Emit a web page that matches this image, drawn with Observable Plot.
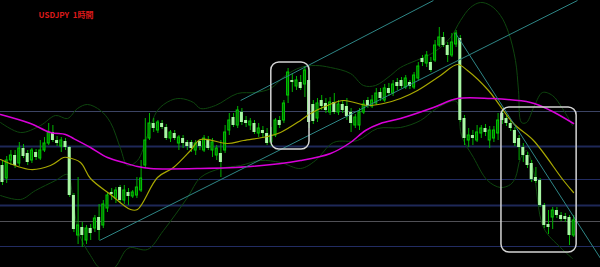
<!DOCTYPE html>
<html><head><meta charset="utf-8">
<script src="https://cdn.jsdelivr.net/npm/d3@7"></script>
<script src="https://cdn.jsdelivr.net/npm/@observablehq/plot@0.6"></script>
<style>html,body{margin:0;padding:0;background:#000;overflow:hidden}</style>
</head><body><div id="chart"></div>
<script>
const title = "USDJPY  1時間";

// Hourly candles (bar index 0..136), prices in yen
const open = [149.35,149.22,149.40,149.45,149.37,149.52,149.47,149.40,149.48,149.42,
149.50,149.57,149.68,149.60,149.54,149.59,149.53,149.05,148.65,148.73,
148.60,148.72,148.72,148.83,148.75,148.92,149.08,149.02,149.13,149.00,
149.08,149.04,149.05,149.10,149.35,149.62,149.77,149.70,149.77,149.73,
149.62,149.67,149.57,149.62,149.58,149.58,149.50,149.59,149.50,149.60,
149.50,149.45,149.47,149.50,149.70,149.83,149.75,149.88,149.80,149.75,
149.77,149.67,149.70,149.67,149.58,149.65,149.80,149.80,150.05,150.20,
150.14,150.18,150.16,150.20,149.96,149.82,150.00,149.97,149.88,149.98,
149.88,149.96,149.94,149.88,149.75,149.75,149.88,150.00,149.94,149.97,
150.08,150.00,150.12,150.07,150.18,150.20,150.13,150.18,150.13,150.22,
150.42,150.37,150.38,150.40,150.55,150.63,150.55,150.45,150.56,150.62,
149.82,149.60,149.65,149.60,149.67,149.72,149.60,149.62,149.67,149.87,
149.82,149.77,149.70,149.62,149.53,149.45,149.37,149.23,149.20,148.95,
148.76,148.83,148.90,148.85,148.84,148.83,148.65];
const high = [149.40,149.44,149.50,149.50,149.58,149.56,149.50,149.52,149.51,149.60,
149.63,149.77,149.75,149.64,149.63,149.62,149.54,149.07,149.23,148.78,
148.75,148.76,148.85,148.96,149.00,149.08,149.12,149.13,149.15,149.15,
149.12,149.10,149.23,149.40,149.82,149.87,149.82,149.80,149.80,149.76,
149.70,149.70,149.65,149.65,149.60,149.60,149.60,149.61,149.65,149.64,
149.62,149.55,149.60,149.75,149.87,149.87,149.94,149.92,149.84,149.82,
149.80,149.77,149.74,149.72,149.73,149.82,149.84,150.00,150.32,150.27,
150.24,150.25,150.34,150.32,150.00,150.02,150.05,150.02,150.03,150.07,
150.00,150.00,150.02,149.92,149.86,149.92,150.00,150.03,150.05,150.12,
150.12,150.16,150.17,150.20,150.22,150.23,150.25,150.20,150.28,150.38,
150.45,150.49,150.43,150.60,150.73,150.68,150.58,150.67,150.70,150.65,
149.85,149.72,149.70,149.75,149.75,149.76,149.74,149.74,149.87,149.90,
149.85,149.80,149.73,149.65,149.57,149.48,149.40,149.33,149.22,148.97,
148.90,148.93,148.93,148.88,148.87,148.85,148.85];
const low = [149.15,149.17,149.35,149.32,149.34,149.42,149.35,149.37,149.40,149.40,
149.48,149.55,149.58,149.54,149.48,149.50,149.03,148.68,148.56,148.53,
148.56,148.60,148.68,148.60,148.72,148.88,149.00,148.97,148.97,148.96,
148.95,149.02,149.02,149.08,149.32,149.60,149.68,149.67,149.71,149.60,
149.58,149.60,149.50,149.52,149.50,149.48,149.45,149.50,149.48,149.50,
149.43,149.40,149.23,149.47,149.65,149.73,149.72,149.75,149.73,149.70,
149.66,149.63,149.63,149.55,149.54,149.63,149.72,149.77,149.97,150.08,
150.10,150.10,150.03,149.72,149.76,149.78,149.90,149.87,149.85,149.86,
149.85,149.87,149.80,149.68,149.72,149.70,149.86,149.92,149.92,149.95,
149.99,149.98,150.04,150.04,150.10,150.12,150.11,150.11,150.11,150.20,
150.34,150.33,150.28,150.38,150.53,150.53,150.38,150.43,150.53,149.78,
149.55,149.53,149.55,149.58,149.62,149.64,149.52,149.58,149.60,149.76,
149.74,149.69,149.54,149.40,149.38,149.32,149.18,149.17,148.93,148.72,
148.66,148.71,148.82,148.79,148.78,148.55,148.63];
const close = [149.18,149.40,149.45,149.35,149.52,149.44,149.38,149.50,149.43,149.50,
149.57,149.68,149.60,149.57,149.60,149.53,149.05,148.71,148.75,148.65,
148.72,148.67,148.82,148.70,148.96,149.05,149.06,149.10,149.00,149.10,
149.04,149.08,149.13,149.22,149.60,149.77,149.72,149.78,149.73,149.62,
149.68,149.62,149.63,149.57,149.54,149.52,149.57,149.54,149.62,149.52,
149.58,149.52,149.38,149.68,149.80,149.75,149.90,149.78,149.77,149.79,
149.68,149.72,149.67,149.57,149.65,149.80,149.75,149.97,150.28,150.18,
150.20,150.12,150.30,149.78,149.79,149.97,149.94,149.90,149.98,149.88,
149.96,149.90,149.84,149.77,149.83,149.88,149.96,149.94,150.00,150.07,
150.02,150.12,150.07,150.16,150.14,150.14,150.22,150.14,150.25,150.34,
150.38,150.45,150.30,150.55,150.63,150.55,150.45,150.58,150.67,149.80,
149.62,149.65,149.62,149.68,149.72,149.68,149.70,149.70,149.80,149.80,
149.77,149.72,149.57,149.53,149.45,149.35,149.21,149.19,148.95,148.75,
148.73,148.90,148.85,148.81,148.81,148.65,148.80];

// Short moving average (yellow) – knots
const maShortBar = [-0.48,6.67,11.43,14.52,15.48,18.57,20.95,25.71,30.48,32.14,36.90,40.71,44.76,47.14,53.57,57.38,63.10,66.19,70.95,73.33,77.38,81.19,86.90,90.71,94.76,98.81,104.29,108.33,110.71,115.71,121.67,126.43,133.57,135.95];
const maShortVal = [149.41,149.31,149.35,149.43,149.43,149.38,149.22,149.06,148.91,148.91,149.23,149.33,149.50,149.61,149.57,149.60,149.64,149.68,149.80,149.87,149.95,150.00,149.95,149.97,150.02,150.10,150.25,150.36,150.30,150.10,149.77,149.60,149.20,149.08];

// Long moving average (magenta)
const maLongBar = [-0.48,6.67,11.43,15.0,16.9,20.95,25.0,28.81,32.14,35.24,47.14,59.05,70.95,78.10,82.86,86.43,90.0,94.76,102.62,108.33,116.19,125.71,130.48,135.95];
const maLongVal = [149.86,149.77,149.68,149.66,149.62,149.53,149.43,149.38,149.34,149.32,149.32,149.34,149.40,149.47,149.58,149.70,149.77,149.82,149.93,150.02,150.02,149.98,149.90,149.77];

// Bollinger bands (dark green)
const bbUpperBar = [-0.48,4.29,9.05,12.62,15.48,17.86,20.24,23.33,25.71,28.10,29.76,32.14,34.52,36.90,40.00,42.38,45.48,47.14,50.71,55.95,60.24,63.81,67.38,70.95,74.52,78.10,82.86,85.95,88.81,92.38,94.76,102.62,106.67,109.05,111.43,113.81,116.19,118.57,120.48,122.14,122.86,123.57,124.76,126.67,128.57,130.95,133.33,135.71];
const bbUpperVal = [149.78,149.68,149.75,149.85,149.82,149.92,149.96,149.90,149.78,149.52,149.35,149.40,149.65,149.90,150.00,150.02,149.98,149.92,149.95,150.07,150.08,150.12,150.25,150.33,150.35,150.33,150.27,150.15,150.15,150.25,150.33,150.48,150.63,150.80,150.93,150.98,150.95,150.85,150.68,150.40,150.10,149.78,149.78,149.95,150.08,150.05,149.92,149.75];
const bbLowerBar = [-0.48,4.29,7.86,12.62,15.48,16.67,18.10,20.95,23.33,26.43,29.29,30.48,34.52,38.33,44.05,47.14,51.90,56.67,61.43,66.19,70.95,74.52,78.81,84.52,89.29,94.76,99.52,102.62,105.48,108.10,109.29,112.14,115.48,118.57,120.95,122.14,123.33,124.76,126.43,128.81,132.86,135.71];
const bbLowerVal = [149.05,149.01,149.10,149.20,149.26,149.05,148.68,148.45,148.32,148.32,148.50,148.53,148.51,148.70,149.03,149.23,149.32,149.35,149.40,149.38,149.32,149.40,149.58,149.60,149.72,149.73,149.80,149.90,149.97,149.99,149.65,149.43,149.20,149.13,149.16,149.23,149.42,149.50,149.30,148.73,148.53,148.42];

// Horizontal price levels
const levelsSteel = [149.89];
const levelsNavyBold = [149.54, 148.95];
const levelsNavy = [149.21, 148.54];
const levelsGray = [148.79];

// Trend lines (bar, price) -> (bar, price)
const trendFrom = [[23.1,148.60],[56.7,150.00],[107.9,150.67]];
const trendTo   = [[136.9,151.00],[102.6,151.00],[142.4,148.42]];

// Highlight boxes
const boxBars = [[64.0,73.1],[118.8,136.7]];
const boxPrices = [[150.38,149.51],[149.93,148.48]];

const candles = open.map((o, i) => ({i, open: o, high: high[i], low: low[i], close: close[i]}));
const bulls = candles.filter(d => d.close >= d.open);
const bears = candles.filter(d => d.close < d.open);
const pts = (xs, ys) => xs.map((x, k) => ({x, y: ys[k]}));
const trends = trendFrom.map((a, k) => ({x1: a[0], y1: a[1], x2: trendTo[k][0], y2: trendTo[k][1]}));
const boxes = boxBars.map((b, k) => ({x1: b[0], x2: b[1], y1: boxPrices[k][0], y2: boxPrices[k][1]}));

const chart = Plot.plot({
  width: 600, height: 267,
  margin: 0,
  style: {background: "#000", overflow: "hidden"},
  x: {domain: [-0.476, 142.381], axis: null},
  y: {domain: [148.33, 151.00], axis: null},
  marks: [
    Plot.ruleY(levelsSteel, {stroke: "#3c4464", strokeWidth: 1}),
    Plot.ruleY(levelsNavyBold, {stroke: "#1e2858", strokeWidth: 2}),
    Plot.ruleY(levelsNavy, {stroke: "#222c62", strokeWidth: 1}),
    Plot.ruleY(levelsGray, {stroke: "#505056", strokeWidth: 1}),
    Plot.line(pts(bbUpperBar, bbUpperVal), {x: "x", y: "y", stroke: "#0e460e", strokeWidth: 1, curve: "catmull-rom", clip: true}),
    Plot.line(pts(bbLowerBar, bbLowerVal), {x: "x", y: "y", stroke: "#0e460e", strokeWidth: 1, curve: "catmull-rom", clip: true}),
    Plot.ruleX(candles, {x: "i", y1: "low", y2: "high", stroke: "#00b400", strokeWidth: 1}),
    Plot.rect(bulls, {x1: d => d.i - 0.24, x2: d => d.i + 0.24, y1: "open", y2: "close", fill: "#006800", stroke: "#00cc00", strokeWidth: 1}),
    Plot.rect(bears, {x1: d => d.i - 0.36, x2: d => d.i + 0.36, y1: "open", y2: "close", fill: "#a8f8a4"}),
    Plot.line(pts(maShortBar, maShortVal), {x: "x", y: "y", stroke: "#a8a800", strokeWidth: 1.2, curve: "catmull-rom", clip: true}),
    Plot.line(pts(maLongBar, maLongVal), {x: "x", y: "y", stroke: "#d800d8", strokeWidth: 1.5, curve: "catmull-rom", clip: true}),
    Plot.link(trends, {x1: "x1", y1: "y1", x2: "x2", y2: "y2", stroke: "#2e8686", strokeWidth: 1, clip: true}),
    Plot.rect(boxes, {x1: "x1", x2: "x2", y1: "y1", y2: "y2", fill: "none", stroke: "#d4d4d4", strokeWidth: 1.5, rx: 8}),
    Plot.text([title], {frameAnchor: "top-left", dx: 38, dy: 15, text: d => d, fill: "#dd1a1a", fontSize: 8, fontWeight: "bold", textAnchor: "start", lineAnchor: "middle", fontFamily: "'Noto Sans CJK JP', sans-serif"})
  ]
});
document.getElementById("chart").appendChild(chart);
</script>
</body></html>
